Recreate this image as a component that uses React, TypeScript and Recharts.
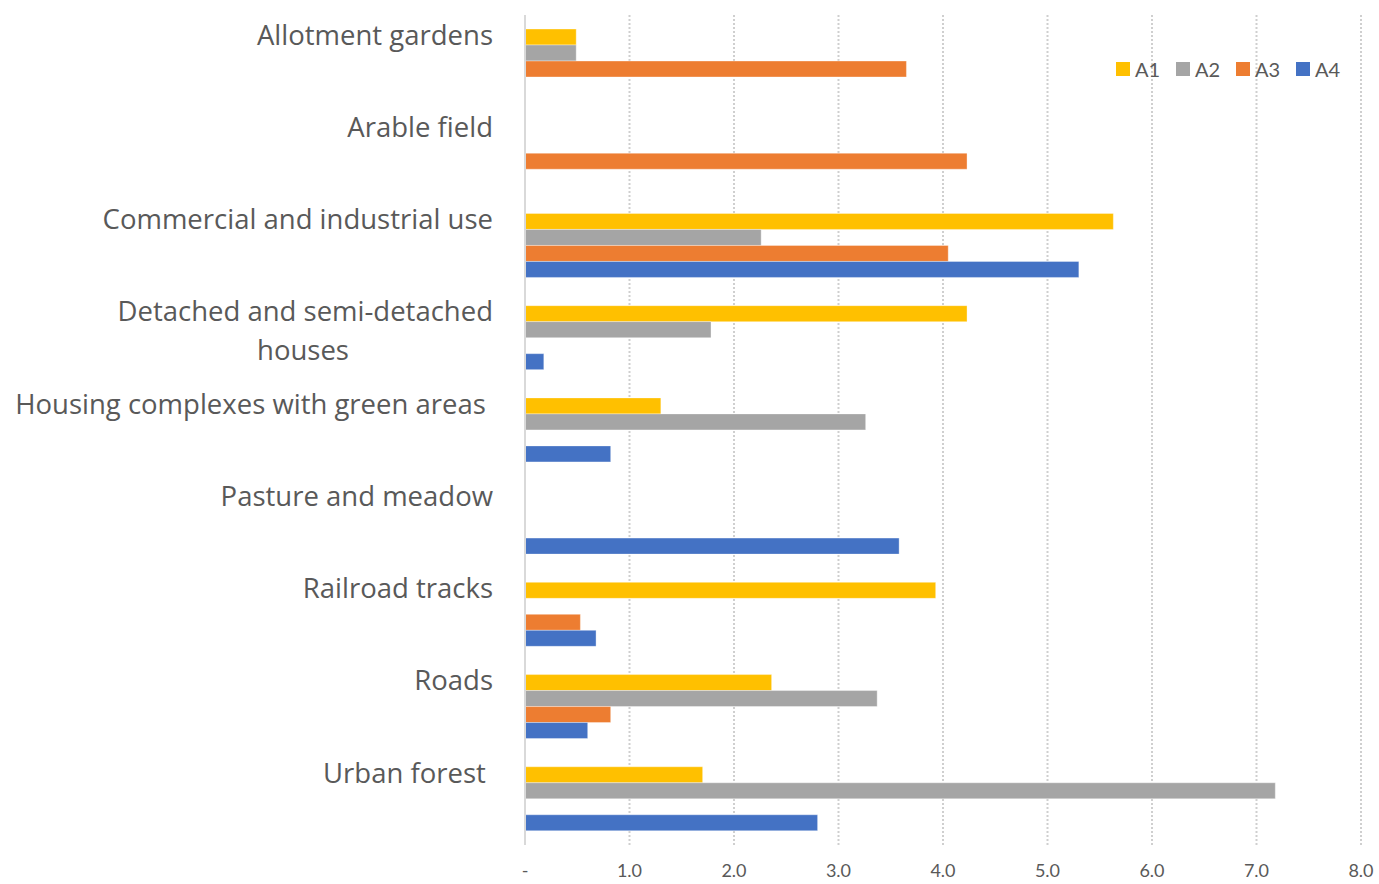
import React from 'react';
import { BarChart, Bar, XAxis, YAxis, CartesianGrid, Legend } from 'recharts';

const categories = [
  'Allotment gardens',
  'Arable field',
  'Commercial and industrial use',
  'Detached and semi-detached houses',
  'Housing complexes with green areas ',
  'Pasture and meadow',
  'Railroad tracks',
  'Roads',
  'Urban forest ',
];

const a1 = [0.49, null, 5.63, 4.23, 1.3, null, 3.93, 2.36, 1.7];
const a2 = [0.49, null, 2.26, 1.78, 3.26, null, null, 3.37, 7.18];
const a3 = [3.65, 4.23, 4.05, null, null, null, 0.53, 0.82, null];
const a4 = [null, null, 5.3, 0.18, 0.82, 3.58, 0.68, 0.6, 2.8];

const xTicks = [0, 1, 2, 3, 4, 5, 6, 7, 8];

const seriesNames = ['A1', 'A2', 'A3', 'A4'];
const seriesColors = ['#ffc000', '#a5a5a5', '#ed7d31', '#4472c4'];

// label lines for categories that Excel wrapped
const wrapped: Record<string, string[]> = {
  'Detached and semi-detached houses': ['Detached and semi-detached', 'houses'],
};

const data = categories.map((name, i) => ({
  name,
  A1: a1[i],
  A2: a2[i],
  A3: a3[i],
  A4: a4[i],
}));

const labelColor = '#595959';
const catFont = "'Open Sans', sans-serif";

const CategoryTick = ({ x, y, payload }: any) => {
  const name: string = payload.value;
  const lines = wrapped[name];
  const tx = x - 32;
  const ty = y - 26;
  if (lines) {
    return (
      <g>
        <text x={tx} y={ty} dy="0.35em" textAnchor="end" fill={labelColor} fontSize={27.5} fontFamily={catFont}>
          {lines[0]}
        </text>
        <text x={tx - 190} y={ty + 39} dy="0.35em" textAnchor="middle" fill={labelColor} fontSize={27.5} fontFamily={catFont}>
          {lines[1]}
        </text>
      </g>
    );
  }
  return (
    <text x={tx} y={ty} dy="0.35em" textAnchor="end" fill={labelColor} fontSize={27.5} fontFamily={catFont} style={{ whiteSpace: 'pre' }}>
      {name}
    </text>
  );
};

const ValueTick = ({ x, y, payload }: any) => {
  const v: number = payload.value;
  return (
    <text x={x} y={y} dy="0.35em" textAnchor="middle" fill={labelColor} fontSize={18} fontFamily="Lato, sans-serif">
      {v === 0 ? '-' : v.toFixed(1)}
    </text>
  );
};

const LegendContent = () => (
  <div style={{ display: 'flex', fontFamily: 'Lato, sans-serif', fontSize: 20, color: labelColor }}>
    {seriesNames.map((n, i) => (
      <div key={n} style={{ display: 'flex', alignItems: 'center', width: 60 }}>
        <span style={{ display: 'inline-block', width: 14, height: 14, background: seriesColors[i], marginRight: 5 }} />
        <span>{n}</span>
      </div>
    ))}
  </div>
);

export default function App() {
  return (
    <div style={{ position: 'absolute', left: 0, top: 0, width: 1379, height: 884, background: '#fff' }}>
      <BarChart
        width={1379}
        height={884}
        data={data}
        layout="vertical"
        margin={{ top: 15, right: 18, left: 0, bottom: 0 }}
        barCategoryGap={14}
        barGap={0}
      >
        <CartesianGrid horizontal={false} stroke="#cfcfcf" strokeDasharray="2 2" strokeWidth={2} />
        <XAxis
          type="number"
          domain={[0, 8]}
          ticks={xTicks}
          axisLine={false}
          tickLine={false}
          tickSize={0}
          height={39}
          tickMargin={26}
          tick={<ValueTick />}
        />
        <YAxis
          type="category"
          dataKey="name"
          width={525}
          axisLine={{ stroke: '#d9d9d9', strokeWidth: 2 }}
          tickLine={false}
          tickSize={0}
          tickMargin={0}
          interval={0}
          tick={<CategoryTick />}
        />
        <Legend
          layout="horizontal"
          verticalAlign="middle"
          align="center"
          content={<LegendContent />}
          wrapperStyle={{ position: 'absolute', left: 1116, top: 57, width: 260 }}
        />
        {seriesNames.map((n, i) => (
          <Bar key={n} dataKey={n} fill={seriesColors[i]} stroke="#ffffff" strokeOpacity={0.35} strokeWidth={1} isAnimationActive={false} />
        ))}
      </BarChart>
    </div>
  );
}
